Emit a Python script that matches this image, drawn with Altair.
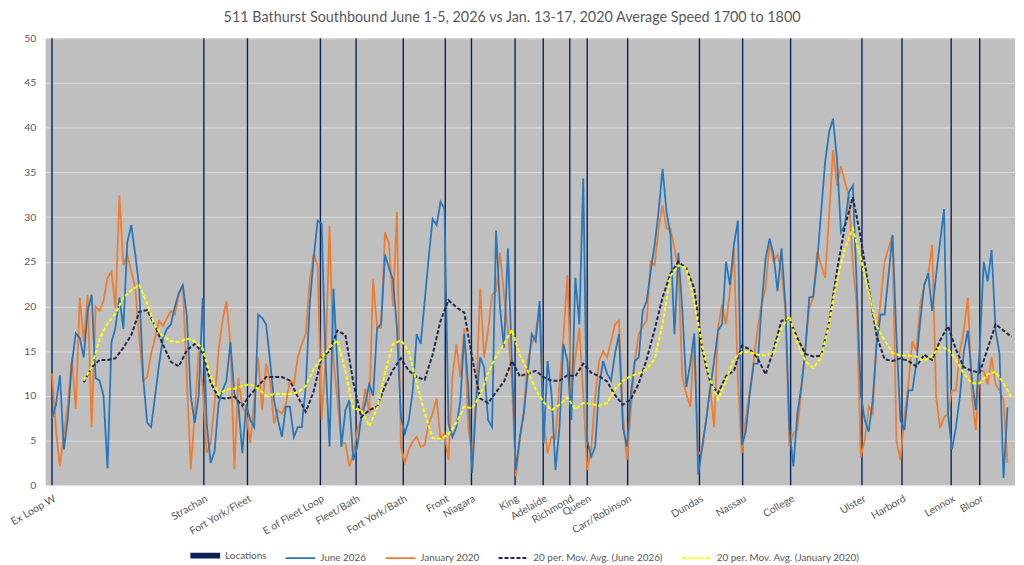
import altair as alt
import pandas as pd

title_text = "511 Bathurst Southbound June 1-5, 2026 vs Jan. 13-17, 2020 Average Speed 1700 to 1800"

series_names = ["Locations", "June 2026", "January 2020",
                "20 per. Mov. Avg. (June 2026)", "20 per. Mov. Avg. (January 2020)"]
series_colors = ["#0A2158", "#2677BC", "#ED7D31", "#1F2A4D", "#FFFF00"]

loc_names = ["Ex Loop W", "Strachan", "Fort York/Fleet", "E of Fleet Loop", "Fleet/Bath",
             "Fort York/Bath", "Front", "Niagara", "King", "Adelaide", "Richmond", "Queen",
             "Carr/Robinson", "Dundas", "Nassau", "College", "Ulster", "Harbord", "Lennox", "Bloor"]
loc_pos = [0, 38.3, 49.3, 67.7, 76.7, 88.6, 99.2, 105.8, 116.8, 123.9, 130.6, 135,
           145.2, 163.3, 174.2, 186.3, 204.3, 214.4, 226.8, 234]

june_2026 = [
    7.5, 9, 12.3, 4.0, 7.5, 13.6, 17, 16.5, 14.3, 19.5, 21.3, 12, 11.7, 10, 1.9, 16, 17.6, 21, 17.5, 27.2,
    29.1, 25.8, 22.1, 12, 7, 6.5, 10, 13.5, 16.5, 17.5, 18, 20, 21.5, 22.4, 19, 10, 7, 10, 20.9, 7,
    2.5, 3.8, 9.1, 10.6, 11.7, 16, 10.2, 9.1, 3.6, 9, 7.3, 6.5, 19.1, 18.7, 18, 13.9, 9.5, 7.3, 5.4, 8.8,
    8.8, 5.4, 6.5, 6.5, 11, 20.2, 25.4, 29.6, 29.3, 13.9, 4.3, 22, 13.2, 4.3, 8.4, 9.5, 2.8, 4.3, 7.6, 9.1,
    11.3, 10, 17.6, 18, 25.8, 24.3, 23, 17.6, 7.6, 5.8, 7.3, 10.6, 16.9, 15.8, 20.6, 25.4, 29.8, 29.1, 31.7, 30.9,
    6.9, 5.4, 6.5, 9.5, 16.9, 11, 1.4, 9.5, 14.3, 13.2, 7.3, 6.5, 28.5, 19.8, 15.4, 26.5, 13.9, 1.7, 5.4, 8,
    12.5, 16.9, 16.1, 20.6, 4.7, 13.9, 10.2, 1.7, 6.5, 15.8, 13.9, 7.3, 23.2, 18, 34.3, 5, 3.2, 4.3, 11, 13.9,
    12.5, 11.7, 14.7, 16.9, 6.5, 4.3, 10.2, 13.9, 14.3, 19.5, 20.6, 23.9, 26.9, 30.6, 35.4, 30.6, 28, 16.9, 26, 19.5,
    11, 13.6, 17, 1.2, 4.3, 7.3, 10.8, 13.9, 17.3, 18, 25, 22.4, 26.9, 29.6, 4.5, 6, 10.2, 13.6, 13.6, 20.2,
    25.4, 27.6, 25.8, 21.7, 26.5, 20.2, 6.2, 2.1, 8, 11, 15, 21, 21.1, 25, 30.6, 36.1, 39.5, 41, 36.5, 28.3,
    29.1, 32.8, 33.5, 22, 10.2, 7.3, 6, 9.5, 15.8, 19.1, 19.1, 23.5, 28, 16.5, 7.3, 6.2, 10.6, 10.6, 13.6, 18.4,
    22.4, 23.7, 19.5, 23.5, 27.2, 30.9, 8, 4, 6.5, 9.9, 15, 17.3, 12.1, 8.4, 15.4, 25, 22.8, 26.3, 17.3, 14.7,
    0.8, 8.7]

january_2020 = [
    12.5, 6.2, 2.1, 5.8, 9.1, 14.3, 8.5, 21, 16.1, 21.3, 6.5, 20, 19.5, 20.6, 23.2, 23.9, 19.8, 32.4, 24.6, 25.8,
    23.9, 22.1, 16.5, 11.7, 12.1, 14.7, 16.5, 18.4, 17.8, 18.7, 19.5, 19.1, 21.3, 22.4, 12, 1.8, 8, 15, 11, 3.6,
    4.7, 9.1, 15, 18.4, 20.6, 15.8, 1.8, 12, 8.8, 8, 4.7, 9.5, 14.3, 8.4, 13.6, 11.7, 6.9, 8.4, 8, 9.1,
    11.7, 11.3, 14.3, 15.8, 16.9, 22.8, 25.9, 24.6, 7.3, 13.9, 29, 14, 9.5, 4.7, 4.7, 2.1, 3.6, 6.2, 7.5, 10.8,
    8, 23, 17.6, 17.6, 28.3, 27, 20, 30.6, 4.3, 2.5, 4, 4.9, 5.4, 4.3, 4.5, 6.9, 8, 9.7, 5.2, 5.8,
    2.8, 12.1, 15.8, 12.1, 17.6, 6.5, 3.2, 10.2, 22, 14.3, 17.3, 21.3, 21.7, 26, 21.3, 17.3, 11.7, 1, 5, 8.4,
    13.9, 15.8, 16.9, 20, 6.9, 3.6, 5.4, 5.2, 11.3, 16.7, 23.5, 10.2, 14.3, 17.6, 10.2, 1.7, 4, 9.9, 13.9, 15,
    14.3, 16.1, 18, 18.4, 8, 2.8, 8.4, 13.9, 16.9, 17.8, 18.4, 25, 24.6, 28.7, 31.3, 28.7, 28.7, 26.5, 23.9, 12.1,
    10.2, 8.8, 16.5, 3.4, 4, 7.3, 11, 6.5, 17.6, 20.2, 18, 21.7, 26.5, 11.7, 3.6, 7.6, 10.6, 13.9, 17.6, 20.2,
    22.1, 27.2, 25, 25.8, 23.9, 19.5, 4.3, 5.8, 6.2, 10.6, 15.4, 19.8, 21, 26.1, 24.6, 23.2, 30, 37.5, 33.5, 35.7,
    33.9, 32.4, 24.6, 20, 3.2, 5, 8.8, 8, 16.5, 20.6, 25, 26.5, 28, 5, 2.8, 7.6, 11.3, 16.1, 15, 20.2,
    22.4, 23.5, 26.9, 9.9, 6.4, 7.6, 8, 10.6, 10.6, 15, 17.3, 21, 10.2, 6.2, 12.8, 12.8, 11.3, 14.3, 11.3, 10.6,
    9.5, 2.5]

# moving averages, read every second category starting at category 8
ma_start = 8
ma_step = 2
ma_june_2026 = [
    11.5, 13.2, 14.0, 14.0, 14.2, 15.4, 16.8, 19.4, 19.6, 17.8, 15.7, 13.8, 13.3, 15.1, 15.8, 14.8, 11.5, 9.8, 9.7, 9.9,
    8.9, 10.1, 11.1, 12.1, 12.1, 12.1, 11.7, 9.9, 8.2, 10.5, 14.3, 15, 17.3, 16.8, 11.5, 7.6, 8.4, 8.8, 11.1, 12.9,
    14.2, 12.8, 12.1, 11.8, 14.6, 18.4, 20.7, 19.9, 19.3, 14.2, 9.7, 9.2, 10.4, 11.6, 13.9, 12.2, 12.5, 12.8, 12.1, 11.7,
    11.7, 12.3, 12.2, 13.6, 12.6, 12.2, 11.6, 10.1, 9.0, 9.6, 11.4, 14.1, 17.4, 21, 23.7, 25, 24.3, 22, 15.2, 11.5,
    10.3, 12.2, 12.8, 15.6, 15.2, 14.2, 12.4, 15.2, 18.4, 18.6, 16.5, 14.7, 14.4, 14.5, 18.2, 24, 29, 32.2, 27.7, 22,
    16.7, 14.1, 13.9, 14.2, 13.9, 13.3, 14.6, 14, 16.2, 17.8, 15.2, 13.2, 12.8, 12.6, 15.3, 18, 17.3, 16.6]
ma_january_2020 = [
    11.7, 13.2, 16.4, 18.1, 19.2, 21, 21.8, 22.4, 20.3, 17.8, 16.7, 16.1, 16, 16.4, 16.1, 15.3, 12.2, 10.2, 10.7, 10.8,
    11.1, 11.3, 10.8, 10, 10.2, 10.2, 10.2, 10.4, 11.1, 13, 14.2, 15.4, 16.2, 12.8, 8.6, 8.4, 6.6, 8.6, 12.6, 15.8,
    16.2, 15, 11.4, 8.1, 5.3, 5.2, 5.7, 7, 8.8, 8.6, 10.1, 12.5, 14.4, 15.8, 17.4, 14.6, 12.8, 10.7, 9.3, 8.4,
    9, 9.8, 8.5, 9.2, 9.1, 8.9, 9.2, 10.8, 11.7, 12.2, 12.5, 13, 14.1, 18, 23.4, 24.6, 24.3, 20.5, 15.6, 11.8,
    9.6, 11.7, 14.1, 14.9, 14.9, 14.6, 14.5, 14.8, 17.6, 18.9, 15.9, 13.9, 13.1, 14.3, 18.1, 22.9, 26.5, 28.7, 25.4, 21.5,
    17.8, 16.2, 14.8, 14.5, 14.5, 14.4, 13.9, 14.5, 15.5, 15.2, 14, 12.5, 11.4, 11.4, 12.4, 12.7, 11.4, 9.8]

y_ticks = [0, 5, 10, 15, 20, 25, 30, 35, 40, 45, 50]

# ---------- tables ----------
df_loc = pd.DataFrame({"i": loc_pos, "name": loc_names, "s": "Locations"})
df_june = pd.DataFrame({"i": list(range(len(june_2026))), "v": june_2026, "s": "June 2026"})
df_jan = pd.DataFrame({"i": list(range(len(january_2020))), "v": january_2020, "s": "January 2020"})
ma_idx_j = [ma_start + ma_step * k for k in range(len(ma_june_2026))]
ma_idx_a = [ma_start + ma_step * k for k in range(len(ma_january_2020))]
df_ma_june = pd.DataFrame({"i": ma_idx_j, "v": ma_june_2026, "s": series_names[3]})
df_ma_jan = pd.DataFrame({"i": ma_idx_a, "v": ma_january_2020, "s": series_names[4]})

label_expr = ("[" + ",".join("'" + n + "'" for n in loc_names) + "][indexof(["
              + ",".join(str(p) for p in loc_pos) + "], datum.value)]")

FONT = "Lato"
GREY = "#595959"

x_scale = alt.Scale(domain=[-1.6, 242.9], nice=False, zero=False)
y_scale = alt.Scale(domain=[0, 50], nice=False, zero=True)

x_axis = alt.Axis(values=loc_pos, labelExpr=label_expr, labelAngle=-30, labelAlign="right",
                  labelBaseline="top", labelFontSize=10.5, labelColor=GREY, labelFont=FONT,
                  labelPadding=8, labelOverlap=False, labelFlush=False, ticks=False,
                  domain=False, grid=False, title=None)
y_axis = alt.Axis(values=y_ticks, labelFontSize=10.5, labelColor=GREY, labelFont=FONT,
                  labelPadding=10, ticks=False, domain=False, grid=True, gridColor="#DCDCDC",
                  gridWidth=1, title=None, minExtent=28, maxExtent=28)

legend = alt.Legend(title=None, orient="none", legendX=143, legendY=504, direction="horizontal",
                    columns=5, symbolType="stroke", symbolSize=900, labelFontSize=10,
                    labelFont=FONT, labelColor=GREY, labelOffset=2, columnPadding=15)

def X():
    return alt.X("i:Q", scale=x_scale, axis=x_axis)

def Y():
    return alt.Y("v:Q", scale=y_scale, axis=y_axis)

color_enc = alt.Color("s:N", scale=alt.Scale(domain=series_names, range=series_colors), legend=legend)
dash_enc = alt.StrokeDash("s:N", scale=alt.Scale(domain=series_names,
                                                 range=[[1, 0], [1, 0], [1, 0], [4, 2], [4, 2]]),
                          legend=legend)
width_enc = alt.StrokeWidth("s:N", scale=alt.Scale(type="ordinal", domain=series_names,
                                                   range=[6, 1.8, 1.8, 2, 2]), legend=legend)

rules = alt.Chart(df_loc).mark_rule(strokeWidth=1.4).encode(x=X(), color=color_enc)

def line_layer(df):
    return alt.Chart(df).mark_line(strokeCap="butt").encode(
        x=X(), y=Y(), color=color_enc, strokeDash=dash_enc, strokeWidth=width_enc)

chart = alt.layer(
    rules,
    line_layer(df_jan),
    line_layer(df_june),
    line_layer(df_ma_june),
    line_layer(df_ma_jan),
).properties(
    width=978, height=451,
    padding={"left": 0, "top": -1, "right": 0, "bottom": 0},
    title=alt.TitleParams(text=title_text, fontSize=14.5, font=FONT, color=GREY,
                          fontWeight="normal", offset=5, dy=-3, anchor="middle", frame="bounds"),
).configure_view(fill="#BFBFBF", stroke=None)

chart.save("out.html", embed_options={"renderer": "svg", "actions": False})
